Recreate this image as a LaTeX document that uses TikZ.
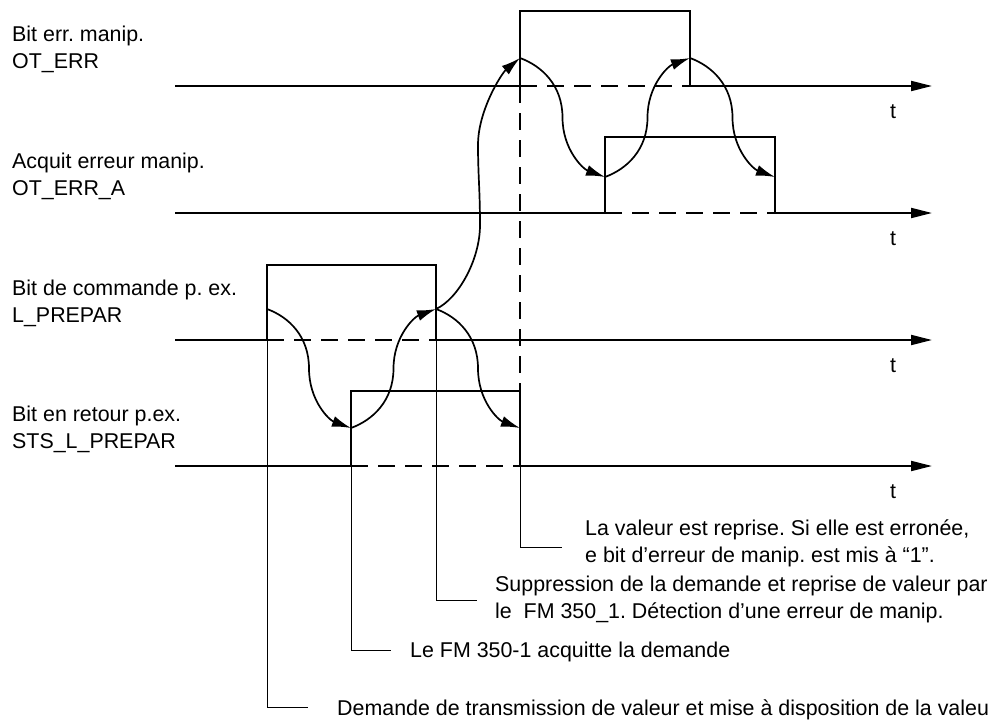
\documentclass[tikz,border=0pt]{standalone}
\usepackage{fontspec}
\setmainfont{Liberation Sans}
\usetikzlibrary{arrows.meta}
\frenchspacing
\begin{document}
\begin{tikzpicture}[x=1pt,y=-1pt,
  axline/.style={line width=2pt},
  axis/.style={line width=2pt,-{Triangle[length=21pt,width=10pt]}},
  sig/.style={line width=1.7pt},
  dsh/.style={line width=1.7pt,dash pattern=on 17pt off 10pt},
  lead/.style={line width=1pt},
  wave/.style={line width=1.7pt,-{Latex[length=19pt,width=11pt]}},
  lbl/.style={font=\fontsize{21.4}{28}\selectfont,inner sep=0pt,anchor=base west},
  tl/.style={font=\fontsize{21.4}{28}\selectfont,inner sep=0pt,anchor=base}
]
\useasboundingbox (0,0) rectangle (993,720);

% ---- key points
\coordinate (p1) at (267,309);
\coordinate (p2) at (351,428);
\coordinate (p3) at (436,309);
\coordinate (p4) at (520,428);
\coordinate (q1) at (520,58);
\coordinate (q2) at (605,177);
\coordinate (q3) at (690,58);
\coordinate (q4) at (775,177);

% ---- axes
\draw[axline] (175,86) -- (520,86);
\draw[dsh] (520,86) -- (690,86);
\draw[axis] (690,86) -- (932,86);

\draw[axline] (175,213) -- (605,213);
\draw[dsh] (605,213) -- (775,213);
\draw[axis] (775,213) -- (932,213);

\draw[axline] (175,340) -- (267,340);
\draw[dsh] (267,340) -- (436,340);
\draw[axis] (436,340) -- (932,340);

\draw[axline] (175,466) -- (351,466);
\draw[dsh] (351,466) -- (520,466);
\draw[axis] (520,466) -- (932,466);

% ---- pulses
\draw[sig] (520,86) -- (520,11) -- (690,11) -- (690,86);
\draw[sig] (605,213) -- (605,137) -- (775,137) -- (775,213);
\draw[sig] (267,340) -- (267,265) -- (436,265) -- (436,340);
\draw[sig] (351,466) -- (351,391) -- (520,391) -- (520,466);
\draw[dsh] (520,86) -- (520,391);

% ---- leaders
\draw[lead] (267,340) -- (267,707) -- (308,707);
\draw[lead] (351,466) -- (351,650) -- (391,650);
\draw[lead] (436,340) -- (436,600) -- (477,600);
\draw[lead] (520,466) -- (520,547) -- (562,547);

% ---- waves
\draw[wave] (p1) .. controls +(22,8) and +(0,-32) .. (309,368.5) .. controls +(0,32) and +(-22,-8) .. (p2);
\draw[wave] (p2) .. controls +(22,-8) and +(0,32) .. (393.5,368.5) .. controls +(0,-32) and +(-22,8) .. (p3);
\draw[wave] (p3) .. controls +(22,8) and +(0,-32) .. (478,368.5) .. controls +(0,32) and +(-22,-8) .. (p4);
\draw[wave] (p3) .. controls +(22,-10) and +(0,35) .. (480,225) .. controls +(0,-35) and +(0,30) .. (478,145) .. controls +(0,-35) and +(-18,15) .. (q1);
\draw[wave] (q1) .. controls +(22,8) and +(0,-32) .. (562.5,117.5) .. controls +(0,32) and +(-22,-8) .. (q2);
\draw[wave] (q2) .. controls +(22,-8) and +(0,32) .. (647.5,117.5) .. controls +(0,-32) and +(-22,8) .. (q3);
\draw[wave] (q3) .. controls +(22,8) and +(0,-32) .. (732.5,117.5) .. controls +(0,32) and +(-22,-8) .. (q4);

% ---- left labels
\node[lbl] (l1a) at (12,41) {Bit err. manip.};
\node[lbl] (l1b) at (12,68.5) {OT\_ERR};
\node[lbl] (l2a) at (12,168) {Acquit erreur manip.};
\node[lbl] (l2b) at (12,195.5) {OT\_ERR\_A};
\node[lbl] (l3a) at (12,295) {Bit de commande p. ex.};
\node[lbl] (l3b) at (12,322.5) {L\_PREPAR};
\node[lbl] (l4a) at (12,421) {Bit en retour p.ex.};
\node[lbl] (l4b) at (12,448.5) {STS\_L\_PREPAR};

% ---- t labels
\node[tl] (t1) at (893,118) {t};
\node[tl] (t2) at (893,245) {t};
\node[tl] (t3) at (893,372) {t};
\node[tl] (t4) at (893,498) {t};

% ---- notes
\node[lbl] (n1a) at (585,535) {La valeur est reprise. Si elle est erronée,};
\node[lbl] (n1b) at (585,562) {e bit d’erreur de manip. est mis à “1”.};
\node[lbl] (n2a) at (495,591) {Suppression de la demande et reprise de valeur par};
\node[lbl] (n2b) at (495,618) {le~ FM 350\_1. Détection d’une erreur de manip.};
\node[lbl] (n3) at (410,657) {Le FM 350-1 acquitte la demande};
\node[lbl] (n4) at (337,715) {Demande de transmission de valeur et mise à disposition de la valeu};
\end{tikzpicture}
\end{document}
